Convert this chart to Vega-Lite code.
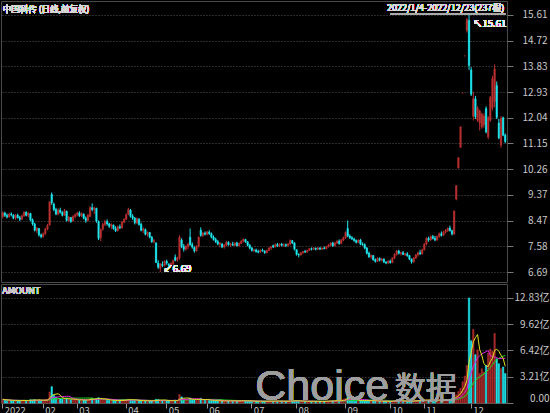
{
  "$schema": "https://vega.github.io/schema/vega-lite/v6.json",
  "background": "#000000",
  "padding": 0,
  "spacing": 0,
  "config": {
    "font": "Noto Sans CJK SC",
    "view": {"stroke": "#4a4a4a", "strokeWidth": 1},
    "concat": {"spacing": 0}
  },
  "datasets": {
    "k": [
      {"d":"2022-01-04","o":8.62,"h":8.80,"l":8.55,"c":8.74,"v":0.45},
      {"d":"2022-01-05","o":8.74,"h":8.78,"l":8.60,"c":8.66,"v":0.38},
      {"d":"2022-01-06","o":8.66,"h":8.72,"l":8.55,"c":8.60,"v":0.30},
      {"d":"2022-01-07","o":8.60,"h":8.75,"l":8.58,"c":8.70,"v":0.32},
      {"d":"2022-01-10","o":8.70,"h":8.76,"l":8.62,"c":8.68,"v":0.28},
      {"d":"2022-01-11","o":8.66,"h":8.70,"l":8.52,"c":8.56,"v":0.30},
      {"d":"2022-01-12","o":8.56,"h":8.70,"l":8.50,"c":8.66,"v":0.33},
      {"d":"2022-01-13","o":8.66,"h":8.72,"l":8.55,"c":8.58,"v":0.27},
      {"d":"2022-01-14","o":8.58,"h":8.64,"l":8.46,"c":8.52,"v":0.26},
      {"d":"2022-01-17","o":8.52,"h":8.68,"l":8.50,"c":8.64,"v":0.30},
      {"d":"2022-01-18","o":8.64,"h":8.80,"l":8.60,"c":8.76,"v":0.36},
      {"d":"2022-01-19","o":8.76,"h":8.80,"l":8.62,"c":8.66,"v":0.30},
      {"d":"2022-01-20","o":8.66,"h":8.78,"l":8.58,"c":8.72,"v":0.28},
      {"d":"2022-01-21","o":8.72,"h":8.74,"l":8.45,"c":8.50,"v":0.40},
      {"d":"2022-01-24","o":8.50,"h":8.55,"l":8.30,"c":8.36,"v":0.38},
      {"d":"2022-01-25","o":8.36,"h":8.40,"l":8.10,"c":8.14,"v":0.42},
      {"d":"2022-01-26","o":8.14,"h":8.25,"l":8.05,"c":8.20,"v":0.32},
      {"d":"2022-01-27","o":8.20,"h":8.22,"l":7.92,"c":7.98,"v":0.36},
      {"d":"2022-01-28","o":7.98,"h":8.02,"l":7.86,"c":7.92,"v":0.30},
      {"d":"2022-02-07","o":7.92,"h":8.06,"l":7.88,"c":8.02,"v":0.32},
      {"d":"2022-02-08","o":8.02,"h":8.22,"l":7.98,"c":8.18,"v":0.40},
      {"d":"2022-02-09","o":8.18,"h":8.36,"l":8.14,"c":8.30,"v":0.45},
      {"d":"2022-02-10","o":8.32,"h":9.13,"l":8.30,"c":9.13,"v":1.35},
      {"d":"2022-02-11","o":9.38,"h":9.45,"l":9.02,"c":9.10,"v":2.00},
      {"d":"2022-02-14","o":9.04,"h":9.10,"l":8.80,"c":8.86,"v":0.95},
      {"d":"2022-02-15","o":8.86,"h":8.92,"l":8.66,"c":8.70,"v":0.70},
      {"d":"2022-02-16","o":8.70,"h":8.90,"l":8.66,"c":8.84,"v":0.62},
      {"d":"2022-02-17","o":8.84,"h":8.92,"l":8.72,"c":8.76,"v":0.55},
      {"d":"2022-02-18","o":8.76,"h":8.80,"l":8.62,"c":8.66,"v":0.48},
      {"d":"2022-02-21","o":8.66,"h":8.88,"l":8.64,"c":8.82,"v":0.52},
      {"d":"2022-02-22","o":8.80,"h":8.82,"l":8.44,"c":8.48,"v":0.58},
      {"d":"2022-02-23","o":8.48,"h":8.64,"l":8.44,"c":8.58,"v":0.45},
      {"d":"2022-02-24","o":8.58,"h":8.60,"l":8.40,"c":8.44,"v":0.40},
      {"d":"2022-02-25","o":8.46,"h":8.66,"l":8.44,"c":8.62,"v":0.42},
      {"d":"2022-02-28","o":8.62,"h":8.72,"l":8.55,"c":8.68,"v":0.40},
      {"d":"2022-03-01","o":8.68,"h":8.78,"l":8.62,"c":8.74,"v":0.38},
      {"d":"2022-03-02","o":8.74,"h":8.80,"l":8.60,"c":8.64,"v":0.36},
      {"d":"2022-03-03","o":8.64,"h":8.76,"l":8.60,"c":8.72,"v":0.34},
      {"d":"2022-03-04","o":8.70,"h":8.72,"l":8.52,"c":8.56,"v":0.35},
      {"d":"2022-03-07","o":8.56,"h":8.62,"l":8.40,"c":8.48,"v":0.38},
      {"d":"2022-03-08","o":8.48,"h":8.70,"l":8.44,"c":8.66,"v":0.40},
      {"d":"2022-03-09","o":8.62,"h":8.98,"l":8.60,"c":8.92,"v":0.55},
      {"d":"2022-03-10","o":8.92,"h":9.07,"l":8.80,"c":8.86,"v":0.60},
      {"d":"2022-03-11","o":8.86,"h":8.95,"l":8.70,"c":8.92,"v":0.45},
      {"d":"2022-03-14","o":8.90,"h":8.92,"l":8.40,"c":8.46,"v":0.55},
      {"d":"2022-03-15","o":8.44,"h":8.48,"l":7.80,"c":7.86,"v":0.65},
      {"d":"2022-03-16","o":7.88,"h":8.20,"l":7.76,"c":8.16,"v":0.50},
      {"d":"2022-03-17","o":8.18,"h":8.40,"l":8.12,"c":8.34,"v":0.42},
      {"d":"2022-03-18","o":8.34,"h":8.50,"l":8.28,"c":8.44,"v":0.40},
      {"d":"2022-03-21","o":8.44,"h":8.52,"l":8.30,"c":8.36,"v":0.35},
      {"d":"2022-03-22","o":8.36,"h":8.40,"l":8.22,"c":8.28,"v":0.32},
      {"d":"2022-03-23","o":8.28,"h":8.38,"l":8.18,"c":8.34,"v":0.30},
      {"d":"2022-03-24","o":8.32,"h":8.34,"l":8.16,"c":8.20,"v":0.32},
      {"d":"2022-03-25","o":8.20,"h":8.28,"l":8.08,"c":8.12,"v":0.30},
      {"d":"2022-03-28","o":8.12,"h":8.30,"l":8.10,"c":8.26,"v":0.28},
      {"d":"2022-03-29","o":8.26,"h":8.34,"l":8.18,"c":8.22,"v":0.30},
      {"d":"2022-03-30","o":8.22,"h":8.46,"l":8.20,"c":8.42,"v":0.35},
      {"d":"2022-03-31","o":8.42,"h":8.56,"l":8.38,"c":8.52,"v":0.38},
      {"d":"2022-04-01","o":8.52,"h":8.72,"l":8.50,"c":8.68,"v":0.40},
      {"d":"2022-04-06","o":8.70,"h":8.92,"l":8.66,"c":8.86,"v":0.48},
      {"d":"2022-04-07","o":8.84,"h":8.88,"l":8.58,"c":8.62,"v":0.40},
      {"d":"2022-04-08","o":8.62,"h":8.70,"l":8.50,"c":8.56,"v":0.33},
      {"d":"2022-04-11","o":8.56,"h":8.60,"l":8.34,"c":8.40,"v":0.32},
      {"d":"2022-04-12","o":8.40,"h":8.58,"l":8.36,"c":8.54,"v":0.30},
      {"d":"2022-04-13","o":8.52,"h":8.56,"l":8.30,"c":8.34,"v":0.28},
      {"d":"2022-04-14","o":8.34,"h":8.40,"l":8.10,"c":8.14,"v":0.30},
      {"d":"2022-04-15","o":8.14,"h":8.24,"l":8.04,"c":8.18,"v":0.26},
      {"d":"2022-04-18","o":8.16,"h":8.20,"l":7.96,"c":8.00,"v":0.28},
      {"d":"2022-04-19","o":8.00,"h":8.10,"l":7.92,"c":8.06,"v":0.25},
      {"d":"2022-04-20","o":8.06,"h":8.08,"l":7.86,"c":7.90,"v":0.26},
      {"d":"2022-04-21","o":7.90,"h":7.94,"l":7.70,"c":7.74,"v":0.28},
      {"d":"2022-04-22","o":7.74,"h":7.84,"l":7.68,"c":7.78,"v":0.26},
      {"d":"2022-04-25","o":7.70,"h":7.72,"l":7.00,"c":7.02,"v":0.45},
      {"d":"2022-04-26","o":7.00,"h":7.10,"l":6.80,"c":6.86,"v":0.42},
      {"d":"2022-04-27","o":6.82,"h":7.00,"l":6.69,"c":6.96,"v":0.35},
      {"d":"2022-04-28","o":6.96,"h":7.06,"l":6.86,"c":6.92,"v":0.30},
      {"d":"2022-04-29","o":6.92,"h":7.10,"l":6.88,"c":7.06,"v":0.32},
      {"d":"2022-05-05","o":7.06,"h":7.12,"l":6.94,"c":7.00,"v":0.28},
      {"d":"2022-05-06","o":6.96,"h":7.00,"l":6.84,"c":6.90,"v":0.25},
      {"d":"2022-05-09","o":6.90,"h":7.04,"l":6.86,"c":6.98,"v":0.26},
      {"d":"2022-05-10","o":6.98,"h":7.12,"l":6.92,"c":7.08,"v":0.30},
      {"d":"2022-05-11","o":7.20,"h":7.30,"l":7.06,"c":7.10,"v":0.35},
      {"d":"2022-05-12","o":7.10,"h":7.22,"l":7.04,"c":7.18,"v":0.30},
      {"d":"2022-05-13","o":7.18,"h":7.96,"l":7.12,"c":7.90,"v":1.05},
      {"d":"2022-05-16","o":7.80,"h":7.86,"l":7.52,"c":7.58,"v":0.75},
      {"d":"2022-05-17","o":7.58,"h":7.66,"l":7.40,"c":7.48,"v":0.50},
      {"d":"2022-05-18","o":7.48,"h":7.62,"l":7.44,"c":7.58,"v":0.40},
      {"d":"2022-05-19","o":7.56,"h":7.70,"l":7.48,"c":7.66,"v":0.38},
      {"d":"2022-05-20","o":7.90,"h":8.20,"l":7.60,"c":7.64,"v":0.62},
      {"d":"2022-05-23","o":7.64,"h":7.72,"l":7.50,"c":7.56,"v":0.45},
      {"d":"2022-05-24","o":7.54,"h":7.58,"l":7.36,"c":7.42,"v":0.38},
      {"d":"2022-05-25","o":7.42,"h":7.62,"l":7.40,"c":7.58,"v":0.35},
      {"d":"2022-05-26","o":7.58,"h":7.92,"l":7.54,"c":7.90,"v":0.40},
      {"d":"2022-05-27","o":8.14,"h":8.24,"l":7.92,"c":7.96,"v":0.58},
      {"d":"2022-05-30","o":7.96,"h":8.08,"l":7.90,"c":8.04,"v":0.40},
      {"d":"2022-05-31","o":8.04,"h":8.10,"l":7.96,"c":8.00,"v":0.35},
      {"d":"2022-06-01","o":8.00,"h":8.12,"l":7.96,"c":8.08,"v":0.38},
      {"d":"2022-06-02","o":8.08,"h":8.14,"l":7.98,"c":8.02,"v":0.32},
      {"d":"2022-06-06","o":8.02,"h":8.06,"l":7.86,"c":7.90,"v":0.30},
      {"d":"2022-06-07","o":7.90,"h":7.96,"l":7.78,"c":7.82,"v":0.28},
      {"d":"2022-06-08","o":7.82,"h":7.88,"l":7.70,"c":7.74,"v":0.26},
      {"d":"2022-06-09","o":7.74,"h":7.80,"l":7.62,"c":7.66,"v":0.25},
      {"d":"2022-06-10","o":7.66,"h":7.72,"l":7.54,"c":7.70,"v":0.26},
      {"d":"2022-06-13","o":7.66,"h":7.70,"l":7.52,"c":7.56,"v":0.24},
      {"d":"2022-06-14","o":7.56,"h":7.66,"l":7.50,"c":7.62,"v":0.25},
      {"d":"2022-06-15","o":7.62,"h":7.78,"l":7.58,"c":7.72,"v":0.30},
      {"d":"2022-06-16","o":7.72,"h":7.76,"l":7.60,"c":7.64,"v":0.26},
      {"d":"2022-06-17","o":7.64,"h":7.70,"l":7.56,"c":7.66,"v":0.24},
      {"d":"2022-06-20","o":7.66,"h":7.74,"l":7.60,"c":7.62,"v":0.25},
      {"d":"2022-06-21","o":7.62,"h":7.72,"l":7.58,"c":7.70,"v":0.26},
      {"d":"2022-06-22","o":7.70,"h":7.74,"l":7.58,"c":7.60,"v":0.24},
      {"d":"2022-06-23","o":7.60,"h":7.72,"l":7.58,"c":7.68,"v":0.25},
      {"d":"2022-06-24","o":7.68,"h":7.80,"l":7.66,"c":7.76,"v":0.28},
      {"d":"2022-06-27","o":7.76,"h":7.86,"l":7.72,"c":7.82,"v":0.30},
      {"d":"2022-06-28","o":7.82,"h":7.84,"l":7.70,"c":7.74,"v":0.26},
      {"d":"2022-06-29","o":7.74,"h":7.76,"l":7.58,"c":7.62,"v":0.25},
      {"d":"2022-06-30","o":7.62,"h":7.66,"l":7.48,"c":7.52,"v":0.24},
      {"d":"2022-07-01","o":7.52,"h":7.56,"l":7.40,"c":7.44,"v":0.22},
      {"d":"2022-07-04","o":7.44,"h":7.50,"l":7.38,"c":7.46,"v":0.20},
      {"d":"2022-07-05","o":7.46,"h":7.50,"l":7.36,"c":7.40,"v":0.21},
      {"d":"2022-07-06","o":7.40,"h":7.46,"l":7.34,"c":7.38,"v":0.20},
      {"d":"2022-07-07","o":7.38,"h":7.48,"l":7.36,"c":7.44,"v":0.22},
      {"d":"2022-07-08","o":7.44,"h":7.50,"l":7.40,"c":7.42,"v":0.21},
      {"d":"2022-07-11","o":7.42,"h":7.44,"l":7.32,"c":7.36,"v":0.20},
      {"d":"2022-07-12","o":7.36,"h":7.46,"l":7.34,"c":7.44,"v":0.21},
      {"d":"2022-07-13","o":7.44,"h":7.56,"l":7.42,"c":7.52,"v":0.24},
      {"d":"2022-07-14","o":7.52,"h":7.60,"l":7.46,"c":7.56,"v":0.25},
      {"d":"2022-07-15","o":7.60,"h":7.64,"l":7.52,"c":7.56,"v":0.22},
      {"d":"2022-07-18","o":7.56,"h":7.68,"l":7.54,"c":7.64,"v":0.24},
      {"d":"2022-07-19","o":7.64,"h":7.70,"l":7.56,"c":7.60,"v":0.22},
      {"d":"2022-07-20","o":7.60,"h":7.68,"l":7.56,"c":7.66,"v":0.23},
      {"d":"2022-07-21","o":7.66,"h":7.70,"l":7.58,"c":7.62,"v":0.22},
      {"d":"2022-07-22","o":7.62,"h":7.68,"l":7.56,"c":7.64,"v":0.21},
      {"d":"2022-07-25","o":7.64,"h":7.68,"l":7.56,"c":7.60,"v":0.20},
      {"d":"2022-07-26","o":7.60,"h":7.70,"l":7.58,"c":7.66,"v":0.22},
      {"d":"2022-07-27","o":7.66,"h":7.82,"l":7.62,"c":7.78,"v":0.32},
      {"d":"2022-07-28","o":7.78,"h":7.80,"l":7.66,"c":7.70,"v":0.28},
      {"d":"2022-07-29","o":7.70,"h":7.72,"l":7.44,"c":7.48,"v":0.30},
      {"d":"2022-08-01","o":7.46,"h":7.48,"l":7.26,"c":7.30,"v":0.28},
      {"d":"2022-08-02","o":7.30,"h":7.34,"l":7.20,"c":7.28,"v":0.22},
      {"d":"2022-08-03","o":7.28,"h":7.38,"l":7.26,"c":7.36,"v":0.20},
      {"d":"2022-08-04","o":7.36,"h":7.42,"l":7.32,"c":7.40,"v":0.21},
      {"d":"2022-08-05","o":7.40,"h":7.46,"l":7.36,"c":7.38,"v":0.20},
      {"d":"2022-08-08","o":7.38,"h":7.46,"l":7.36,"c":7.44,"v":0.19},
      {"d":"2022-08-09","o":7.44,"h":7.52,"l":7.42,"c":7.50,"v":0.22},
      {"d":"2022-08-10","o":7.50,"h":7.54,"l":7.44,"c":7.48,"v":0.20},
      {"d":"2022-08-11","o":7.48,"h":7.56,"l":7.46,"c":7.52,"v":0.21},
      {"d":"2022-08-12","o":7.52,"h":7.54,"l":7.44,"c":7.48,"v":0.19},
      {"d":"2022-08-15","o":7.48,"h":7.56,"l":7.46,"c":7.52,"v":0.20},
      {"d":"2022-08-16","o":7.52,"h":7.56,"l":7.46,"c":7.48,"v":0.19},
      {"d":"2022-08-17","o":7.48,"h":7.54,"l":7.46,"c":7.52,"v":0.20},
      {"d":"2022-08-18","o":7.52,"h":7.58,"l":7.48,"c":7.50,"v":0.19},
      {"d":"2022-08-19","o":7.50,"h":7.60,"l":7.48,"c":7.58,"v":0.22},
      {"d":"2022-08-22","o":7.58,"h":7.66,"l":7.54,"c":7.62,"v":0.25},
      {"d":"2022-08-23","o":7.62,"h":7.72,"l":7.58,"c":7.70,"v":0.28},
      {"d":"2022-08-24","o":7.70,"h":7.74,"l":7.56,"c":7.60,"v":0.26},
      {"d":"2022-08-25","o":7.60,"h":7.74,"l":7.58,"c":7.70,"v":0.28},
      {"d":"2022-08-26","o":7.70,"h":7.80,"l":7.66,"c":7.76,"v":0.30},
      {"d":"2022-08-29","o":7.76,"h":7.82,"l":7.64,"c":7.68,"v":0.26},
      {"d":"2022-08-30","o":7.68,"h":7.84,"l":7.66,"c":7.80,"v":0.32},
      {"d":"2022-08-31","o":7.80,"h":7.92,"l":7.76,"c":7.88,"v":0.45},
      {"d":"2022-09-01","o":7.88,"h":8.10,"l":7.84,"c":8.06,"v":0.55},
      {"d":"2022-09-02","o":8.20,"h":8.48,"l":7.90,"c":7.94,"v":0.95},
      {"d":"2022-09-05","o":7.94,"h":8.00,"l":7.84,"c":7.88,"v":0.50},
      {"d":"2022-09-06","o":7.88,"h":7.94,"l":7.80,"c":7.84,"v":0.38},
      {"d":"2022-09-07","o":7.84,"h":7.88,"l":7.74,"c":7.78,"v":0.32},
      {"d":"2022-09-08","o":7.78,"h":7.82,"l":7.68,"c":7.72,"v":0.30},
      {"d":"2022-09-09","o":7.72,"h":7.82,"l":7.70,"c":7.80,"v":0.28},
      {"d":"2022-09-13","o":7.80,"h":7.84,"l":7.62,"c":7.66,"v":0.30},
      {"d":"2022-09-14","o":7.66,"h":7.72,"l":7.60,"c":7.64,"v":0.26},
      {"d":"2022-09-15","o":7.64,"h":7.68,"l":7.48,"c":7.52,"v":0.28},
      {"d":"2022-09-16","o":7.52,"h":7.56,"l":7.30,"c":7.34,"v":0.32},
      {"d":"2022-09-19","o":7.34,"h":7.40,"l":7.18,"c":7.22,"v":0.30},
      {"d":"2022-09-20","o":7.22,"h":7.30,"l":7.14,"c":7.26,"v":0.26},
      {"d":"2022-09-21","o":7.26,"h":7.28,"l":7.08,"c":7.12,"v":0.25},
      {"d":"2022-09-22","o":7.12,"h":7.16,"l":7.02,"c":7.06,"v":0.24},
      {"d":"2022-09-23","o":7.06,"h":7.20,"l":7.04,"c":7.16,"v":0.22},
      {"d":"2022-09-26","o":7.16,"h":7.20,"l":7.06,"c":7.10,"v":0.20},
      {"d":"2022-09-27","o":7.10,"h":7.18,"l":7.06,"c":7.14,"v":0.21},
      {"d":"2022-09-28","o":7.14,"h":7.16,"l":7.00,"c":7.04,"v":0.20},
      {"d":"2022-09-29","o":7.04,"h":7.06,"l":6.96,"c":7.00,"v":0.19},
      {"d":"2022-09-30","o":7.00,"h":7.10,"l":6.98,"c":7.06,"v":0.20},
      {"d":"2022-10-10","o":7.06,"h":7.12,"l":6.98,"c":7.02,"v":0.20},
      {"d":"2022-10-11","o":7.02,"h":7.20,"l":7.00,"c":7.18,"v":0.26},
      {"d":"2022-10-12","o":7.18,"h":7.34,"l":7.14,"c":7.30,"v":0.30},
      {"d":"2022-10-13","o":7.30,"h":7.46,"l":7.26,"c":7.42,"v":0.32},
      {"d":"2022-10-14","o":7.42,"h":7.46,"l":7.30,"c":7.34,"v":0.26},
      {"d":"2022-10-17","o":7.34,"h":7.40,"l":7.26,"c":7.36,"v":0.24},
      {"d":"2022-10-18","o":7.36,"h":7.42,"l":7.28,"c":7.30,"v":0.22},
      {"d":"2022-10-19","o":7.30,"h":7.36,"l":7.24,"c":7.32,"v":0.23},
      {"d":"2022-10-20","o":7.32,"h":7.38,"l":7.22,"c":7.26,"v":0.22},
      {"d":"2022-10-21","o":7.26,"h":7.28,"l":7.10,"c":7.14,"v":0.25},
      {"d":"2022-10-24","o":7.14,"h":7.16,"l":6.98,"c":7.04,"v":0.24},
      {"d":"2022-10-25","o":7.04,"h":7.20,"l":7.02,"c":7.18,"v":0.28},
      {"d":"2022-10-26","o":7.18,"h":7.32,"l":7.14,"c":7.28,"v":0.30},
      {"d":"2022-10-27","o":7.28,"h":7.40,"l":7.22,"c":7.36,"v":0.32},
      {"d":"2022-10-28","o":7.36,"h":7.46,"l":7.28,"c":7.32,"v":0.28},
      {"d":"2022-10-31","o":7.32,"h":7.50,"l":7.30,"c":7.46,"v":0.34},
      {"d":"2022-11-01","o":7.46,"h":7.70,"l":7.44,"c":7.66,"v":0.38},
      {"d":"2022-11-02","o":7.66,"h":7.90,"l":7.62,"c":7.86,"v":0.45},
      {"d":"2022-11-03","o":7.86,"h":7.92,"l":7.74,"c":7.80,"v":0.36},
      {"d":"2022-11-04","o":7.80,"h":7.96,"l":7.78,"c":7.92,"v":0.40},
      {"d":"2022-11-07","o":7.92,"h":7.98,"l":7.82,"c":7.86,"v":0.34},
      {"d":"2022-11-08","o":7.86,"h":7.94,"l":7.76,"c":7.80,"v":0.32},
      {"d":"2022-11-09","o":7.80,"h":7.96,"l":7.78,"c":7.92,"v":0.35},
      {"d":"2022-11-10","o":7.92,"h":8.06,"l":7.88,"c":8.02,"v":0.40},
      {"d":"2022-11-11","o":8.02,"h":8.10,"l":7.92,"c":7.96,"v":0.34},
      {"d":"2022-11-14","o":7.96,"h":8.12,"l":7.94,"c":8.08,"v":0.38},
      {"d":"2022-11-15","o":8.08,"h":8.18,"l":8.02,"c":8.14,"v":0.40},
      {"d":"2022-11-16","o":8.14,"h":8.24,"l":8.08,"c":8.20,"v":0.38},
      {"d":"2022-11-17","o":8.22,"h":8.30,"l":8.10,"c":8.12,"v":0.42},
      {"d":"2022-11-18","o":8.12,"h":8.16,"l":7.96,"c":8.01,"v":0.60},
      {"d":"2022-11-21","o":8.01,"h":8.81,"l":7.98,"c":8.81,"v":0.90},
      {"d":"2022-11-22","o":9.22,"h":9.69,"l":9.18,"c":9.69,"v":1.00},
      {"d":"2022-11-23","o":10.30,"h":10.66,"l":10.28,"c":10.66,"v":1.40},
      {"d":"2022-11-24","o":11.02,"h":11.73,"l":11.00,"c":11.73,"v":1.80},
      {"d":"2022-11-25","o":12.90,"h":12.90,"l":12.90,"c":12.90,"v":2.60},
      {"d":"2022-11-28","o":14.19,"h":14.19,"l":14.19,"c":14.19,"v":3.30},
      {"d":"2022-11-29","o":15.08,"h":15.50,"l":15.00,"c":15.44,"v":4.60},
      {"d":"2022-11-30","o":15.42,"h":15.61,"l":13.70,"c":13.86,"v":12.83},
      {"d":"2022-12-01","o":13.70,"h":13.80,"l":12.80,"c":12.86,"v":7.60},
      {"d":"2022-12-02","o":12.10,"h":12.95,"l":11.95,"c":12.70,"v":9.00},
      {"d":"2022-12-05","o":12.70,"h":12.80,"l":12.00,"c":12.08,"v":5.90},
      {"d":"2022-12-06","o":11.96,"h":12.44,"l":11.90,"c":12.38,"v":6.50},
      {"d":"2022-12-07","o":11.86,"h":12.32,"l":11.60,"c":12.28,"v":3.60},
      {"d":"2022-12-08","o":11.72,"h":12.22,"l":11.66,"c":12.16,"v":4.20},
      {"d":"2022-12-09","o":11.80,"h":12.20,"l":11.70,"c":12.10,"v":3.80},
      {"d":"2022-12-12","o":12.36,"h":12.44,"l":11.50,"c":11.55,"v":4.60},
      {"d":"2022-12-13","o":11.38,"h":12.10,"l":11.30,"c":12.04,"v":6.10},
      {"d":"2022-12-14","o":11.96,"h":12.80,"l":11.90,"c":12.74,"v":6.60},
      {"d":"2022-12-15","o":12.40,"h":13.50,"l":12.30,"c":13.40,"v":6.30},
      {"d":"2022-12-16","o":12.60,"h":13.90,"l":12.40,"c":13.74,"v":8.50},
      {"d":"2022-12-19","o":13.16,"h":13.30,"l":12.00,"c":12.06,"v":5.40},
      {"d":"2022-12-20","o":11.86,"h":12.00,"l":11.30,"c":11.34,"v":4.80},
      {"d":"2022-12-21","o":11.10,"h":12.10,"l":11.00,"c":12.02,"v":4.20},
      {"d":"2022-12-22","o":12.04,"h":12.08,"l":11.40,"c":11.44,"v":4.40},
      {"d":"2022-12-23","o":11.44,"h":11.50,"l":11.16,"c":11.22,"v":3.60}
    ]
  },
  "data": {"name": "k"},
  "resolve": {"scale": {"x": "shared", "y": "independent"}},
  "vconcat": [
    {
      "width": 506,
      "height": 281,
      "layer": [
        {
          "mark": {"type": "rule", "strokeWidth": 1},
          "encoding": {
            "x": {"field": "d", "type": "ordinal", "scale": {"paddingInner": 0.35, "paddingOuter": 0.5}, "axis": null},
            "y": {
              "field": "l", "type": "quantitative",
              "scale": {"domain": [6.344, 16.094], "zero": false, "nice": false},
              "axis": {
                "orient": "right", "title": null, "tickCount": 30,
                "values": [6.69, 7.58, 8.47, 9.37, 10.26, 11.15, 12.04, 12.93, 13.83, 14.72, 15.61],
                "format": ".2f", "grid": true, "gridColor": "#555555", "gridDash": [1, 2], "gridWidth": 1,
                "domain": false, "ticks": true, "tickSize": 6, "tickColor": "#777777",
                "labelOverlap": false, "labelBound": false,
                "labelColor": "#c8c8c8", "labelFontSize": 10, "labelAlign": "right", "labelPadding": 34
              }
            },
            "y2": {"field": "h"},
            "color": {"condition": {"test": "datum.c >= datum.o", "value": "#b83030"}, "value": "#1ee6ee"}
          }
        },
        {
          "mark": {"type": "bar", "strokeWidth": 0.6},
          "encoding": {
            "x": {"field": "d", "type": "ordinal"},
            "y": {"field": "o", "type": "quantitative"},
            "y2": {"field": "c"},
            "color": {"condition": {"test": "datum.c >= datum.o", "value": "#b83030"}, "value": "#1ee6ee"},
            "stroke": {"condition": {"test": "datum.c >= datum.o", "value": "#b83030"}, "value": "#1ee6ee"}
          }
        },
        {
          "mark": {"type": "text", "align": "left", "baseline": "middle", "dy": 8, "fontSize": 8.5, "color": "#d8d8d8"},
          "encoding": {"x": {"datum": "2022-01-04", "type": "ordinal"}, "y": {"datum": 16.094}, "text": {"value": "中国科传 (日线,前复权)"}}
        },
        {
          "mark": {"type": "text", "align": "right", "baseline": "middle", "dy": 7, "dx": -1, "fontSize": 9, "color": "#d8d8d8"},
          "encoding": {"x": {"datum": "2022-12-23", "type": "ordinal"}, "y": {"datum": 16.094}, "text": {"value": "2022/1/4-2022/12/23(237根)"}}
        },
        {
          "mark": {"type": "rule", "color": "#aaaaaa", "strokeWidth": 1},
          "encoding": {"x": {"datum": "2022-10-10", "type": "ordinal"}, "x2": {"datum": "2022-12-23"}, "y": {"datum": 15.645}}
        },
        {
          "mark": {"type": "text", "align": "left", "baseline": "middle", "dx": 4, "dy": 9, "fontSize": 9.5, "color": "#e8e8e8"},
          "encoding": {"x": {"datum": "2022-11-30", "type": "ordinal"}, "y": {"datum": 15.61}, "text": {"value": "↖15.61"}}
        },
        {
          "mark": {"type": "text", "align": "left", "baseline": "middle", "dx": 3, "dy": -3, "fontSize": 9.5, "color": "#e8e8e8"},
          "encoding": {"x": {"datum": "2022-04-27", "type": "ordinal"}, "y": {"datum": 6.69}, "text": {"value": "↙6.69"}}
        }
      ]
    },
    {
      "width": 506,
      "height": 119,
      "layer": [
        {
          "mark": {"type": "bar", "strokeWidth": 0.6},
          "encoding": {
            "x": {
              "field": "d", "type": "ordinal", "scale": {"paddingInner": 0.35, "paddingOuter": 0.5},
              "axis": {
                "title": null,
                "values": ["2022-01-04","2022-02-07","2022-03-01","2022-04-01","2022-05-05","2022-06-01","2022-07-01","2022-08-01","2022-09-01","2022-10-10","2022-11-01","2022-12-01"],
                "labelExpr": "datum.value == '2022-01-04' ? '2022' : slice(datum.value, 5, 7)",
                "labelAlign": "left", "labelBaseline": "top", "labelOffset": 2, "labelPadding": -3, "labelAngle": 0,
                "labelOverlap": false, "tickSize": 5, "tickColor": "#999999", "domainColor": "#555555",
                "labelColor": "#c8c8c8", "labelFontSize": 9.5, "grid": false
              }
            },
            "y": {
              "field": "v", "type": "quantitative",
              "scale": {"domain": [0, 14.54], "nice": false},
              "axis": {
                "orient": "right", "title": null, "tickCount": 20,
                "values": [0, 3.21, 6.42, 9.62, 12.83],
                "labelExpr": "datum.value == 0 ? '0.00' : format(datum.value, '.2f') + '亿'",
                "grid": true, "gridColor": "#555555", "gridDash": [1, 2],
                "domain": false, "tickSize": 6, "tickColor": "#777777", "labelFlush": true,
                "labelOverlap": false, "labelBound": false,
                "labelColor": "#c8c8c8", "labelFontSize": 10, "labelAlign": "right", "labelPadding": 36
              }
            },
            "color": {"condition": {"test": "datum.c >= datum.o", "value": "#a82a2a"}, "value": "#1ee6ee"},
            "stroke": {"condition": {"test": "datum.c >= datum.o", "value": "#a82a2a"}, "value": "#1ee6ee"}
          }
        },
        {
          "transform": [{"window": [{"op": "mean", "field": "v", "as": "ma"}], "frame": [-19, 0], "sort": [{"field": "d"}]}],
          "mark": {"type": "line", "color": "#22dd22", "strokeWidth": 1},
          "encoding": {"x": {"field": "d", "type": "ordinal"}, "y": {"field": "ma", "type": "quantitative"}}
        },
        {
          "transform": [{"window": [{"op": "mean", "field": "v", "as": "ma"}], "frame": [-9, 0], "sort": [{"field": "d"}]}],
          "mark": {"type": "line", "color": "#e020e0", "strokeWidth": 1},
          "encoding": {"x": {"field": "d", "type": "ordinal"}, "y": {"field": "ma", "type": "quantitative"}}
        },
        {
          "transform": [{"window": [{"op": "mean", "field": "v", "as": "ma"}], "frame": [-4, 0], "sort": [{"field": "d"}]}],
          "mark": {"type": "line", "color": "#e0e020", "strokeWidth": 1},
          "encoding": {"x": {"field": "d", "type": "ordinal"}, "y": {"field": "ma", "type": "quantitative"}}
        },
        {
          "mark": {"type": "text", "align": "left", "baseline": "middle", "dy": 7, "dx": -0.5, "fontSize": 9, "color": "#c8c8c8"},
          "encoding": {"x": {"datum": "2022-01-04", "type": "ordinal"}, "y": {"datum": 14.54}, "text": {"value": "AMOUNT"}}
        },
        {
          "mark": {"type": "text", "align": "left", "baseline": "alphabetic", "dy": -3, "dx": -3, "fontSize": 43, "font": "Liberation Sans", "color": "#a0a0a0", "opacity": 0.45},
          "encoding": {"x": {"datum": "2022-07-06", "type": "ordinal"}, "y": {"datum": 0}, "text": {"value": "Choice"}}
        },
        {
          "mark": {"type": "text", "align": "left", "baseline": "alphabetic", "dy": -4, "dx": -2, "fontSize": 31, "color": "#a0a0a0", "opacity": 0.45},
          "encoding": {"x": {"datum": "2022-10-13", "type": "ordinal"}, "y": {"datum": 0}, "text": {"value": "数据"}}
        }
      ]
    }
  ]
}
